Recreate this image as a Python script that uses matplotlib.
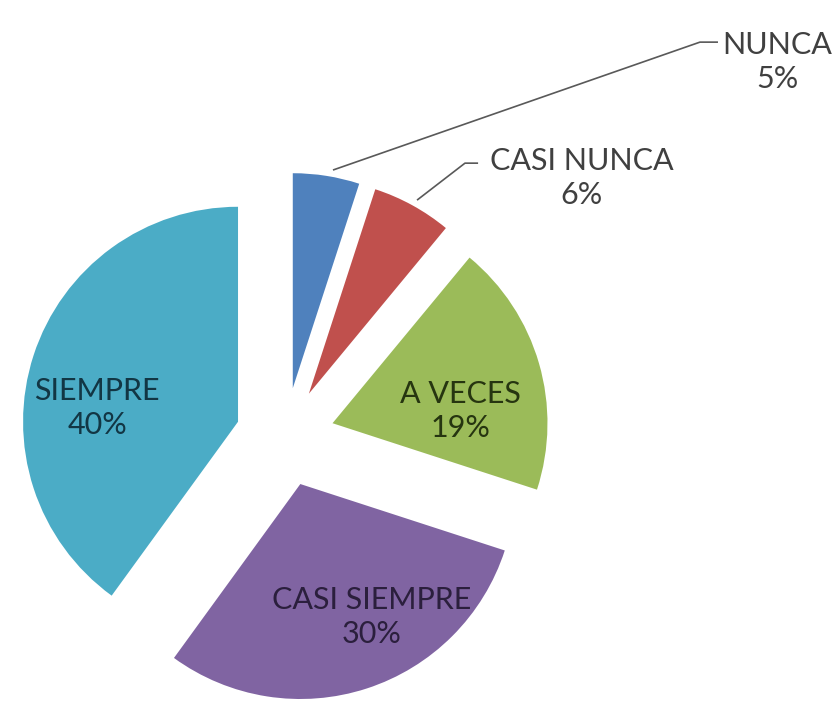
import matplotlib.pyplot as plt
import numpy as np

categories = ["NUNCA", "CASI NUNCA", "A VECES", "CASI SIEMPRE", "SIEMPRE"]
percent = [5, 6, 19, 30, 40]
colors = ["#4F81BD", "#C0504D", "#9BBB59", "#8064A2", "#4BACC6"]
text_colors = ["#404040", "#404040", "#263510", "#2B1F3D", "#123644"]

plt.rcParams['font.family'] = ['Lato', 'DejaVu Sans']

fig = plt.figure(figsize=(8.36, 7.04), dpi=100)
ax = fig.add_axes([0, 0, 1, 1])

explode = [0.23] * len(percent)
wedges, _ = ax.pie(percent, colors=colors, startangle=90, counterclock=False,
                   explode=explode, radius=1.0, center=(0, 0),
                   wedgeprops=dict(linewidth=0))

# pie() resets the limits, so set them afterwards
ax.set_xlim(-1.326, 2.563)
ax.set_ylim(-1.242, 2.033)
ax.set_aspect("equal")
ax.axis("off")

# inside labels (A VECES, CASI SIEMPRE, SIEMPRE)
inside_pos = {2: (0.814, 0.121), 3: (0.405, -0.837), 4: (-0.874, 0.135)}
for i, (x, y) in inside_pos.items():
    ax.text(x, y, f"{categories[i]}\n{percent[i]}%", ha="center", va="center",
            fontsize=22, color=text_colors[i], linespacing=1.25)

# outside labels with leader lines
leaders = {
    0: ([0.223, 1.930, 2.014], [1.242, 1.837, 1.837], (2.29, 1.744)),
    1: ([0.614, 0.837, 0.898], [1.102, 1.274, 1.274], (1.381, 1.205)),
}
for i, (lx, ly, (tx, ty)) in leaders.items():
    ax.plot(lx, ly, color="#595959", linewidth=1.2, solid_capstyle="butt")
    ax.text(tx, ty, f"{categories[i]}\n{percent[i]}%", ha="center", va="center",
            fontsize=22, color=text_colors[i], linespacing=1.25)

fig.savefig("out.png", dpi=100, facecolor="white")
